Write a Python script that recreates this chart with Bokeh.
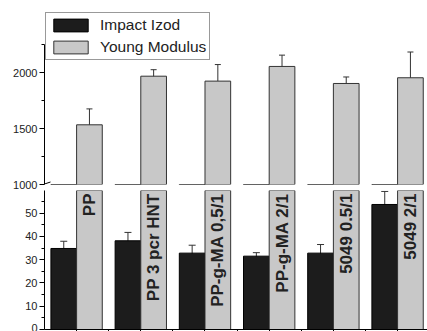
import numpy as np
from bokeh.plotting import figure
from bokeh.models import (ColumnDataSource, FixedTicker, Whisker, TeeHead, Legend,
                          LegendItem, Range1d, Arrow, CustomJSTickFormatter)
from bokeh.layouts import column
from bokeh.embed import file_html
from bokeh.resources import INLINE
from bokeh.core.properties import value

# ---- data ----
categories = ["PP", "PP 3 pcr HNT", "PP-g-MA 0,5/1", "PP-g-MA 2/1", "5049 0.5/1", "5049 2/1"]
impact = [34.8, 38.1, 32.8, 31.5, 32.8, 53.7]
impact_err = [3.1, 3.6, 3.4, 1.5, 3.7, 5.6]
young = [1533, 1967, 1923, 2054, 1902, 1953]
young_err = [142, 58, 148, 101, 58, 230]
upper_ticks = [1000, 1500, 2000]
upper_minor = [1250, 1750, 2250]
upper_bounds = (1000, 2250)
lower_ticks = [0, 10, 20, 30, 40, 50]
lower_minor = [5, 15, 25, 35, 45, 55]
x_ticks = [1, 1.5, 2, 2.5, 3, 3.5, 4, 4.5, 5, 5.5, 6]

FONT = "Liberation Sans"
BLACK_FILL = "#1c1c1c"
GREY_FILL = "#c8c8c8"
EDGE = "#333333"

pos = np.arange(1, len(categories) + 1)
src = ColumnDataSource(dict(
    xi=pos - 0.2, xy=pos + 0.2, cat=categories,
    impact=impact, iu=np.array(impact) + np.array(impact_err), il=np.array(impact) - np.array(impact_err),
    young=young, yu=np.array(young) + np.array(young_err), yl=np.array(young) - np.array(young_err),
))

X_RANGE = (0.5, 6.466)
W = 427
LOWER_TOP = 59.7
UPPER_FRAME_H = 184
UPPER_TOP = 1000 + UPPER_FRAME_H * 1250 / 140


def style_y(p, ticks, minor):
    ax = p.yaxis[0]
    ax.ticker = FixedTicker(ticks=ticks, minor_ticks=minor)
    ax.major_tick_in = 0
    ax.major_tick_out = 5
    ax.minor_tick_in = 0
    ax.minor_tick_out = 3
    ax.axis_line_color = "black"
    ax.major_tick_line_color = "black"
    ax.minor_tick_line_color = "black"
    ax.major_label_text_font = FONT
    ax.major_label_text_font_size = "11px"
    ax.major_label_text_color = "#222222"
    ax.major_label_standoff = 2
    p.xgrid.visible = False
    p.ygrid.visible = False
    p.outline_line_color = None


# ---------------- upper panel ----------------
upper = figure(width=W, height=UPPER_FRAME_H + 6, x_range=Range1d(*X_RANGE),
               y_range=Range1d(1000, UPPER_TOP),
               output_backend="svg", toolbar_location=None, x_axis_location=None,
               min_border_left=44, min_border_right=0, min_border_top=0, min_border_bottom=6)
style_y(upper, upper_ticks, upper_minor)
upper.yaxis[0].bounds = upper_bounds

r_black = upper.vbar(x="xi", top="impact", bottom=0, width=0.4, source=src,
                     fill_color=BLACK_FILL, line_color="black")
r_grey = upper.vbar(x="xy", top="young", bottom=0, width=0.4, source=src,
                    fill_color=GREY_FILL, line_color=EDGE)
upper.add_layout(Whisker(source=src, base="xy", upper="yu", lower="yl", line_color=EDGE,
                         upper_head=TeeHead(size=6, line_color=EDGE),
                         lower_head=TeeHead(size=6, line_color=EDGE)))

legend = Legend(items=[LegendItem(label="Impact Izod", renderers=[r_black]),
                       LegendItem(label="Young Modulus", renderers=[r_grey])],
                location=(1, 124), orientation="vertical",
                border_line_color=EDGE, border_line_width=1,
                glyph_width=43, glyph_height=16, label_height=16,
                label_text_font=FONT, label_text_font_size="15.5px",
                label_text_color="#222222", label_standoff=8,
                padding=3, spacing=4, margin=0, background_fill_alpha=1.0)
upper.add_layout(legend, "center")

# axis break marks
for y0 in (-1.5, -6):
    upper.add_layout(Arrow(x_start=-6, y_start=y0, x_end=6, y_end=y0 + 4,
                           start_units="screen", end_units="screen",
                           start=None, end=None, line_color="black", line_width=1))

# ---------------- lower panel ----------------
lower = figure(width=W, height=141, x_range=upper.x_range, y_range=Range1d(0, LOWER_TOP),
               output_backend="svg", toolbar_location=None,
               min_border_left=44, min_border_right=0, min_border_top=0, min_border_bottom=2)
style_y(lower, lower_ticks, lower_minor)
xa = lower.xaxis[0]
xa.ticker = FixedTicker(ticks=x_ticks, minor_ticks=[])
xa.formatter = CustomJSTickFormatter(code="return ''")
xa.major_tick_in = 0
xa.major_tick_out = 2
xa.major_label_standoff = 0
xa.axis_line_color = "black"
xa.major_tick_line_color = "black"

lower.vbar(x="xi", top="impact", bottom=0, width=0.4, source=src,
           fill_color=BLACK_FILL, line_color="black")
lower.vbar(x="xy", top="young", bottom=0, width=0.4, source=src,
           fill_color=GREY_FILL, line_color=EDGE)
lower.add_layout(Whisker(source=src, base="xi", upper="iu", lower="il", line_color=EDGE,
                         upper_head=TeeHead(size=7, line_color=EDGE),
                         lower_head=TeeHead(size=7, line_color=EDGE)))

lower.text(x="xy", y=LOWER_TOP, text="cat", source=src, angle=np.pi / 2,
           text_align="right", text_baseline="middle", y_offset=3,
           text_font=value(FONT), text_font_style="bold", text_font_size="17px",
           text_color="#222222")

layout = column(upper, lower, spacing=0)
open("out.html", "w").write(file_html(layout, INLINE))
